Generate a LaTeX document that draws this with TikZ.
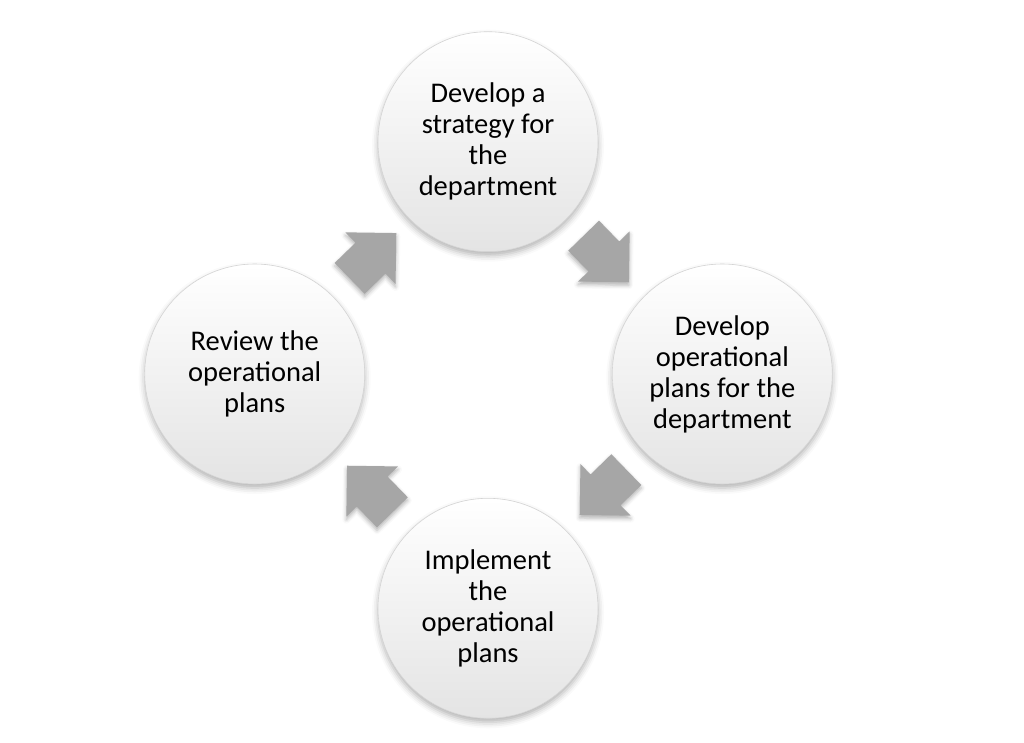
\documentclass[tikz,border=0pt]{standalone}
\usepackage{fontspec}
\setmainfont{Carlito}
\usetikzlibrary{positioning, shadows.blur}
\definecolor{ringgray}{HTML}{D4D4D4}
\definecolor{lowgray}{HTML}{E4E4E4}
\definecolor{arrowgray}{HTML}{A6A6A6}

\begin{document}
\begin{tikzpicture}[x=1pt, y=1pt]
\tikzstyle{stage} = [circle, minimum size=220pt, inner sep=0pt, align=center, draw=ringgray, line width=0.6pt, top color=white, middle color=white, bottom color=lowgray, font=\fontsize{28.5}{31}\selectfont, blur shadow={shadow xshift=0pt, shadow yshift=-4pt, shadow blur radius=6pt, shadow opacity=30}]
\tikzset{turn/.pic={
  \fill[arrowgray, blur shadow={shadow xshift=0pt, shadow yshift=-3pt, shadow blur radius=4pt, shadow opacity=30}]
    (-32.5,-21.5) -- (-3.5,-21.5) -- (-3.5,-36) -- (32.5,0) -- (-3.5,36) -- (-3.5,21.5) -- (-32.5,21.5) -- cycle;
}}

\useasboundingbox (0,0) rectangle (1024,742);

\coordinate (hub) at (488,368);

\node (strategy) [stage, above=122pt of hub] {Develop a\\strategy for\\the\\department};
\node (plans) [stage, right=124pt of hub] {Develop\\operational\\plans for the\\department};
\node (implement) [stage, below=124pt of hub] {Implement\\the\\operational\\plans};
\node (review) [stage, left=123pt of hub] {Review the\\operational\\plans};

% arrows between the stages
\pic (toStrategy) [rotate=44.2] at ([shift={(134.2:165)}]hub) {turn};
\pic (toPlans) [rotate=-45.8] at ([shift={(44.2:165)}]hub) {turn};
\pic (toImplement) [rotate=-135.8] at ([shift={(-45.8:165)}]hub) {turn};
\pic (toReview) [rotate=134.2] at ([shift={(224.2:165)}]hub) {turn};

\end{tikzpicture}
\end{document}
